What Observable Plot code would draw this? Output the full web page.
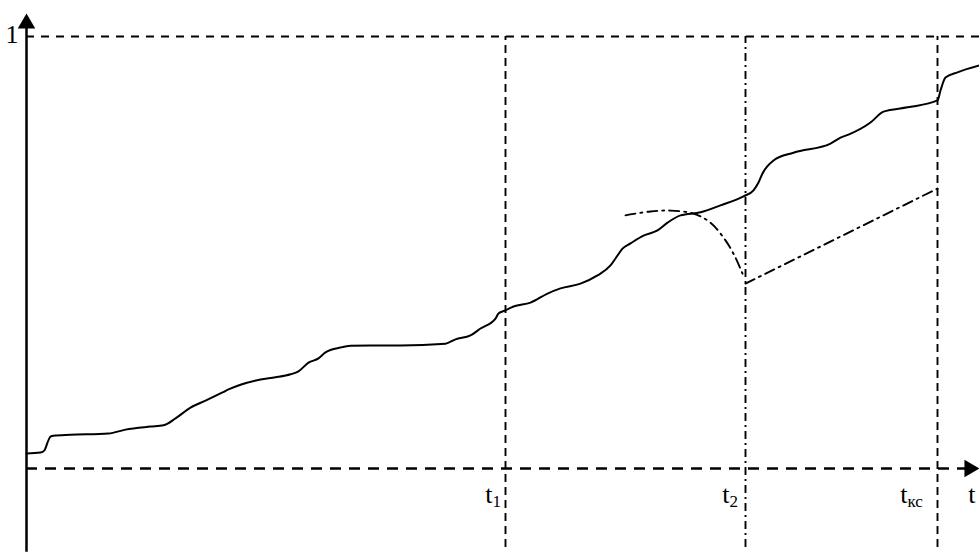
<!DOCTYPE html>
<html>
<head>
<meta charset="utf-8">
<script src="https://cdn.jsdelivr.net/npm/d3@7"></script>
<script src="https://cdn.jsdelivr.net/npm/@observablehq/plot@0.6"></script>
<style>
  html, body { margin: 0; padding: 0; background: #fff; }
  #chart svg { display: block; }
</style>
</head>
<body>
<div id="chart"></div>
<script>
// Main cumulative curve (t, value)
const curveT = [0, 1.4, 1.8, 2.1, 2.4, 2.7, 4.4, 8.2, 9.9, 12.4, 13.7, 14.9, 16.4, 17.9, 19.6, 20.2, 21.4, 23.4, 24.9, 26.4, 27.2, 28.2, 29.2, 29.9, 31.4, 32.4, 34.4, 37.4, 41.9, 42.9, 44.4, 45.4, 46.9, 47.2, 47.9, 48.7, 50.4, 52.1, 53.4, 55.4, 57.1, 58.4, 59.1, 59.6, 60.4, 61.7, 63.1, 64.1, 65.4, 67.4, 69.4, 71.7, 72.7, 73.2, 73.6, 74.7, 76.7, 80.4, 81.4, 82.2, 84.4, 85.7, 88.1, 91.1, 91.4, 91.9, 93.1, 95.3];
const curveY = [0.035, 0.037, 0.042, 0.060, 0.074, 0.076, 0.078, 0.081, 0.090, 0.097, 0.100, 0.116, 0.141, 0.157, 0.176, 0.183, 0.194, 0.206, 0.211, 0.218, 0.225, 0.245, 0.255, 0.269, 0.280, 0.284, 0.285, 0.285, 0.289, 0.299, 0.308, 0.324, 0.347, 0.359, 0.366, 0.375, 0.384, 0.405, 0.417, 0.428, 0.447, 0.470, 0.493, 0.509, 0.521, 0.539, 0.551, 0.569, 0.586, 0.593, 0.609, 0.630, 0.644, 0.662, 0.683, 0.713, 0.731, 0.752, 0.766, 0.773, 0.801, 0.826, 0.836, 0.852, 0.875, 0.905, 0.917, 0.933];

// Dash-dot arc (forecast before t2)
const arcT = [59.9, 62.4, 64.4, 66.7, 68.4, 69.9, 70.9, 71.6];
const arcY = [0.586, 0.595, 0.597, 0.590, 0.569, 0.528, 0.488, 0.451];

// Dash-dot straight segment (t2 -> tкс)
const segT = [71.9, 91.1];
const segY = [0.428, 0.648];

// Marked moments
const momentNames = ["t1", "t2", "tkc"];
const momentT = [47.9, 71.9, 91.1];
const labelMain = ["t", "t", "t"];
const labelSub = ["1", "2", "кс"];

// Axis annotations
const yTickValue = 1;
const yTickLabel = "1";
const xAxisLabel = "t";
const tMax = 95.3;

const curve = curveT.map((t, i) => ({t, y: curveY[i]}));
const arc = arcT.map((t, i) => ({t, y: arcY[i]}));
const seg = segT.map((t, i) => ({t, y: segY[i]}));

const FONT = "Liberation Serif, Times New Roman, serif";
const lineBottom = -0.183;
const labelY = -0.081;

const momentRule = (i, dash) => Plot.ruleX([momentT[i]], {
  y1: lineBottom, y2: yTickValue, stroke: "black", strokeWidth: 1.9, strokeDasharray: dash
});
const labelOffsets = [-13, -16, -30];
const labelMarks = [];
momentT.forEach((t, i) => {
  labelMarks.push(Plot.text([{t, y: labelY, s: labelMain[i]}], {
    x: "t", y: "y", text: "s", dx: labelOffsets[i], textAnchor: "end", lineAnchor: "bottom",
    fontSize: 26, fontFamily: FONT, fill: "black"
  }));
  labelMarks.push(Plot.text([{t, y: labelY, s: labelSub[i]}], {
    x: "t", y: "y", text: "s", dx: labelOffsets[i], dy: 4, textAnchor: "start", lineAnchor: "bottom",
    fontSize: 17, fontFamily: FONT, fill: "black"
  }));
});

const chart = Plot.plot({
  width: 979,
  height: 559,
  margin: 0,
  style: {background: "white", overflow: "visible"},
  x: {domain: [0, tMax], range: [26, 979], axis: null},
  y: {domain: [0, 1], range: [468, 36], axis: null},
  marks: [
    // dashed level "1"
    Plot.ruleY([yTickValue], {x1: 0, x2: tMax, stroke: "black", strokeWidth: 1.9, strokeDasharray: "8,7"}),
    // x axis (dashed)
    Plot.ruleY([0], {x1: 0, x2: 94.2, stroke: "black", strokeWidth: 2.4, strokeDasharray: "11,8"}),
    // vertical moments
    momentRule(0, "8,5"),
    momentRule(1, "8,4,2,4"),
    momentRule(2, "8,5"),
    // y axis
    Plot.ruleX([0], {y1: -0.194, y2: 1.02, stroke: "black", strokeWidth: 2.5}),
    // arrowheads
    Plot.dot([{t: 0, y: 1.030}], {x: "t", y: "y", symbol: "triangle", r: 6.5, fill: "black", stroke: "none"}),
    Plot.dot([{t: 94.3, y: 0}], {x: "t", y: "y", symbol: "triangle", r: 6.5, fill: "black", stroke: "none", rotate: 90}),
    // curves
    Plot.line(curve, {x: "t", y: "y", stroke: "black", strokeWidth: 2, curve: "monotone-x"}),
    Plot.line(arc, {x: "t", y: "y", stroke: "black", strokeWidth: 1.9, strokeDasharray: "10,5,2,5", curve: "catmull-rom"}),
    Plot.line(seg, {x: "t", y: "y", stroke: "black", strokeWidth: 1.9, strokeDasharray: "10,5,2,5"}),
    // labels
    Plot.text([{t: 0, y: yTickValue, s: yTickLabel}], {x: "t", y: "y", text: "s", dx: -8, dy: -2, textAnchor: "end", lineAnchor: "middle", fontSize: 26, fontFamily: FONT, fill: "black"}),
    Plot.text([{t: tMax, y: labelY, s: xAxisLabel}], {x: "t", y: "y", text: "s", dx: -4, textAnchor: "end", lineAnchor: "bottom", fontSize: 26, fontFamily: FONT, fill: "black"}),
    ...labelMarks
  ]
});
document.getElementById("chart").appendChild(chart);
</script>
</body>
</html>
